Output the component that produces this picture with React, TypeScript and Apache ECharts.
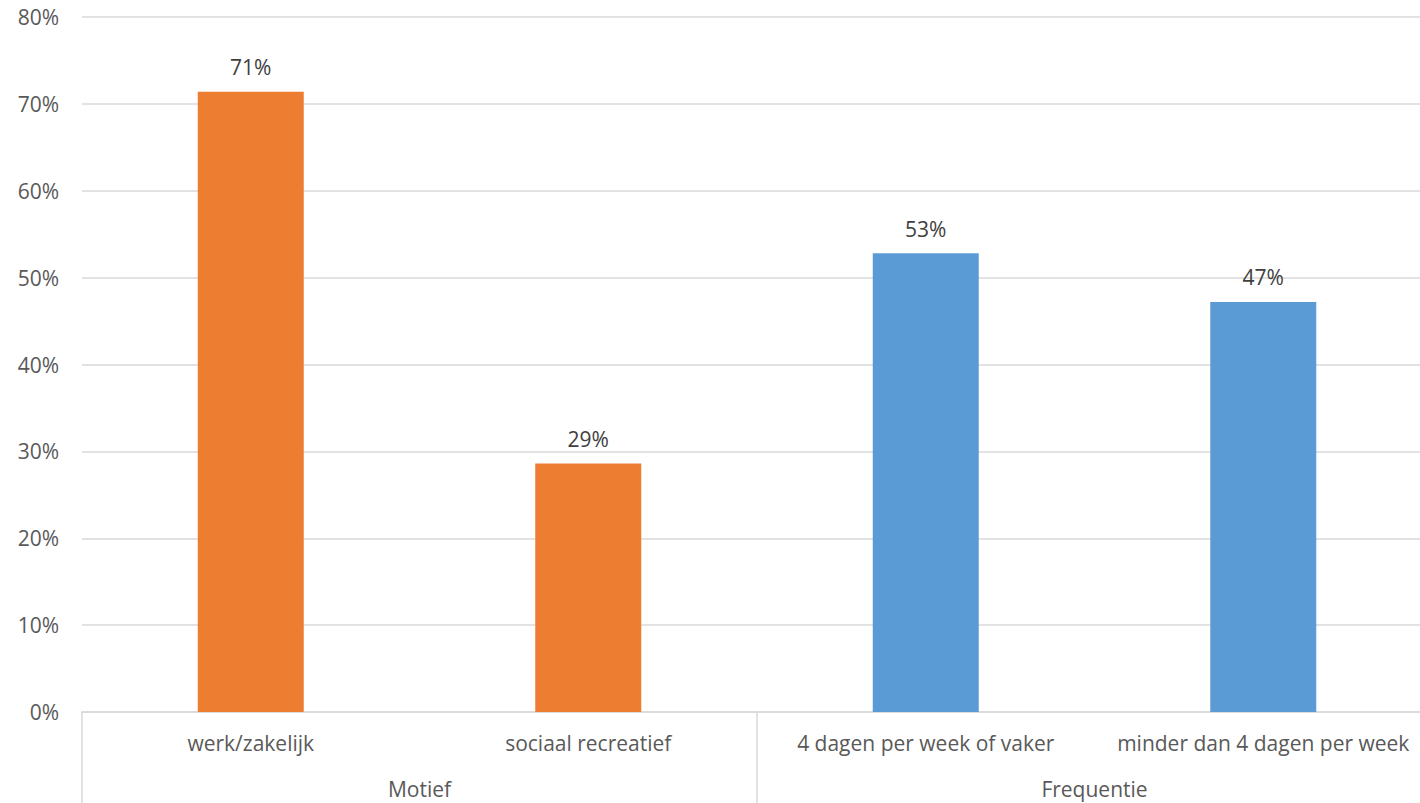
import React, { useEffect, useRef } from "react";
import * as echarts from "echarts";

const categories = ["werk/zakelijk", "sociaal recreatief", "4 dagen per week of vaker", "minder dan 4 dagen per week"];
const groups = ["Motief", "Frequentie"];
const values = [71.4, 28.6, 52.8, 47.2];
const barColors = ["#ED7D31", "#ED7D31", "#5B9BD5", "#5B9BD5"];
const yTicks = [0, 10, 20, 30, 40, 50, 60, 70, 80];

const FONT = "'Open Sans', 'Noto Sans', sans-serif";
const TXT = "#595959";
const LINE = "#d9d9d9";
const FS = 21;

export default function App() {
  const ref = useRef<HTMLDivElement>(null);
  useEffect(() => {
    const chart = echarts.init(ref.current!, null, { renderer: "svg" });
    chart.setOption({
      animation: false,
      textStyle: { fontFamily: FONT },
      grid: { left: 82, right: 0, top: 17, bottom: 91, containLabel: false },
      xAxis: [
        {
          type: "category",
          data: categories,
          position: "bottom",
          axisLine: { show: true, lineStyle: { color: LINE, width: 1.5 } },
          axisTick: { show: false },
          axisLabel: { color: TXT, fontSize: FS, margin: 20, interval: 0, fontFamily: FONT },
        },
        {
          type: "category",
          data: groups,
          position: "bottom",
          offset: 0,
          axisLine: { show: false },
          axisTick: { show: true, length: 91, interval: 0, lineStyle: { color: LINE, width: 1.5 } },
          axisLabel: { color: TXT, fontSize: FS, margin: 66, interval: 0, fontFamily: FONT },
        },
      ],
      yAxis: {
        type: "value",
        min: yTicks[0],
        max: yTicks[yTicks.length - 1],
        interval: 10,
        axisLine: { show: false },
        axisTick: { show: false },
        axisLabel: { color: TXT, fontSize: FS, margin: 23, formatter: (v: number) => v + "%", fontFamily: FONT },
        splitLine: { show: true, lineStyle: { color: LINE, width: 1.5 } },
      },
      series: [
        {
          type: "bar",
          xAxisIndex: 0,
          barWidth: 106,
          data: values.map((v, i) => ({ value: v, itemStyle: { color: barColors[i] } })),
          label: {
            show: true,
            position: "top",
            distance: 14,
            color: "#404040",
            fontSize: FS,
            fontFamily: FONT,
            formatter: (p: any) => Math.round(p.value) + "%",
          },
        },
      ],
    });
    return () => chart.dispose();
  }, []);
  return (
    <div
      ref={ref}
      style={{ position: "fixed", left: 0, top: 0, width: 1432, height: 803, background: "#fff" }}
    />
  );
}
